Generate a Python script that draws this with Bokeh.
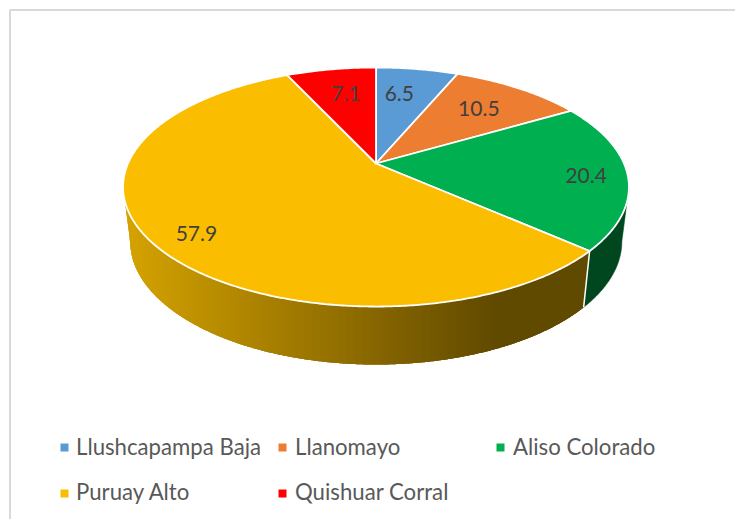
import numpy as np
from bokeh.plotting import figure
from bokeh.models import Range1d
from bokeh.core.properties import value
from bokeh.embed import file_html
from bokeh.resources import INLINE

categories = ["Llushcapampa Baja", "Llanomayo", "Aliso Colorado", "Puruay Alto", "Quishuar Corral"]
values = [6.5, 10.5, 20.4, 57.9, 7.1]
colors = ["#5B9BD5", "#ED7D31", "#00AF50", "#FBBD00", "#FF0000"]
side_green = "#00471F"

# layout (page pixels)
CX, CY = 375.5, 163.0
A, B, K = 248.0, 114.9, 0.1967      # perspective projection of the disc
SIDE_SCALE, SIDE_M, RIM_LOW, SIDE_LOW = 0.972, 1.03, 305.5, 363.5

label_r = 0.7
label_dx = [-7, -1, 35, -28, 3]
label_dy = [-1, 0, 4, 18, -1]
legend_x = [64, 282, 500, 64, 282]
legend_y = [447, 447, 447, 493, 493]
legend_text_x = [75.5, 294.5, 512.5, 75.5, 294.5]
legend_text_y = [445.5, 445.5, 445.5, 491, 491]


def project(theta, r=1.0):
    u, v = r * np.sin(theta), -r * np.cos(theta)
    d = 1 - K * v
    return CX + A * u / d, CY + B * v / d


def lower(x, y):
    return CX + (x - CX) * SIDE_SCALE, SIDE_LOW + (y - RIM_LOW) * SIDE_M


def side_color(x):
    t = np.clip((x - 124) / (496 - 124), 0, 1)
    r0, g0 = 214, 163
    r1, g1 = 97, 74
    return "#%02x%02x00" % (int(r0 + (r1 - r0) * t), int(g0 + (g1 - g0) * t))


p = figure(width=735, height=519, output_backend="svg", toolbar_location=None,
           x_range=Range1d(0, 735), y_range=Range1d(519, 0), min_border=0, tools="")
p.axis.visible = False
p.grid.visible = False
p.outline_line_color = None
p.background_fill_color = "white"

# chart frame (left and top edges; the rest lies outside the photo)
p.line([9.5, 9.5, 735], [519, 9.5, 9.5], line_color="#D9D9D9", line_width=2)

total = sum(values)
edges = np.concatenate([[0], np.cumsum(values)]) / total * 2 * np.pi
sil_r = np.arccos(-K)
sil_l = 2 * np.pi - sil_r

# side wall of Aliso Colorado (flat dark)
g = np.linspace(sil_r, edges[3], 40)
gx, gy = project(g)
gbx, gby = lower(gx, gy)
p.patch(list(gx) + list(gbx[::-1]), list(gy) + list(gby[::-1]), fill_color=side_green, line_color=side_green, line_width=0.5)

# side wall of Puruay Alto: horizontal gradient drawn as overlapping vertical bands
g = np.linspace(sil_l, edges[3], 500)          # left silhouette -> seam
tx, ty = project(g)
lx_, ly_ = lower(tx, ty)
bot_x = np.concatenate([[tx[0]], lx_, [tx[-1]]])
bot_y = np.concatenate([[ty[0]], ly_, [ty[-1]]])
band_edges = np.arange(np.floor(tx[0]), np.ceil(tx[-1]) + 1)
xs, ys, fc = [], [], []
for x0, x1 in zip(band_edges[:-1], band_edges[1:]):
    a, b = max(x0, tx[0]), min(x1 + 2, tx[-1])
    if b <= a:
        continue
    m = np.linspace(a, b, 4)
    top = np.interp(m, tx, ty)
    bot = np.interp(m, bot_x, bot_y)
    xs.append(list(m) + list(m[::-1]))
    ys.append(list(top) + list(bot[::-1]))
    fc.append(side_color(x0 + 0.5))
p.patches(xs, ys, fill_color=fc, fill_alpha=1.0, line_color=None)

# seam between the side walls
sx, sy = project(edges[3])
bx, by = lower(sx, sy)
p.line([sx, bx], [sy, by], line_color="white", line_width=1.5)

# top face
wx, wy = [], []
for i in range(len(values)):
    grid = np.linspace(edges[i], edges[i + 1], max(3, int(np.degrees(edges[i + 1] - edges[i]) * 2)))
    rx, ry = project(grid)
    wx.append([CX] + list(rx))
    wy.append([CY] + list(ry))
p.patches(wx, wy, fill_color=colors, line_color="white", line_width=1.8, line_join="round")

# data labels
mid = (edges[:-1] + edges[1:]) / 2
lx, ly = project(mid, label_r)
p.text(lx + np.array(label_dx), ly + np.array(label_dy), text=[str(v) for v in values],
       text_font=value("Lato"), text_font_size="21px", text_color="#404040",
       text_align="center", text_baseline="middle")

# legend
p.scatter(legend_x, legend_y, marker="square", size=8, fill_color=colors, line_color=None)
p.text(legend_text_x, legend_text_y, text=categories, text_font=value("Lato"),
       text_font_size="22.2px", text_color="#595959", text_align="left", text_baseline="middle")

open("out.html", "w").write(file_html(p, INLINE))
